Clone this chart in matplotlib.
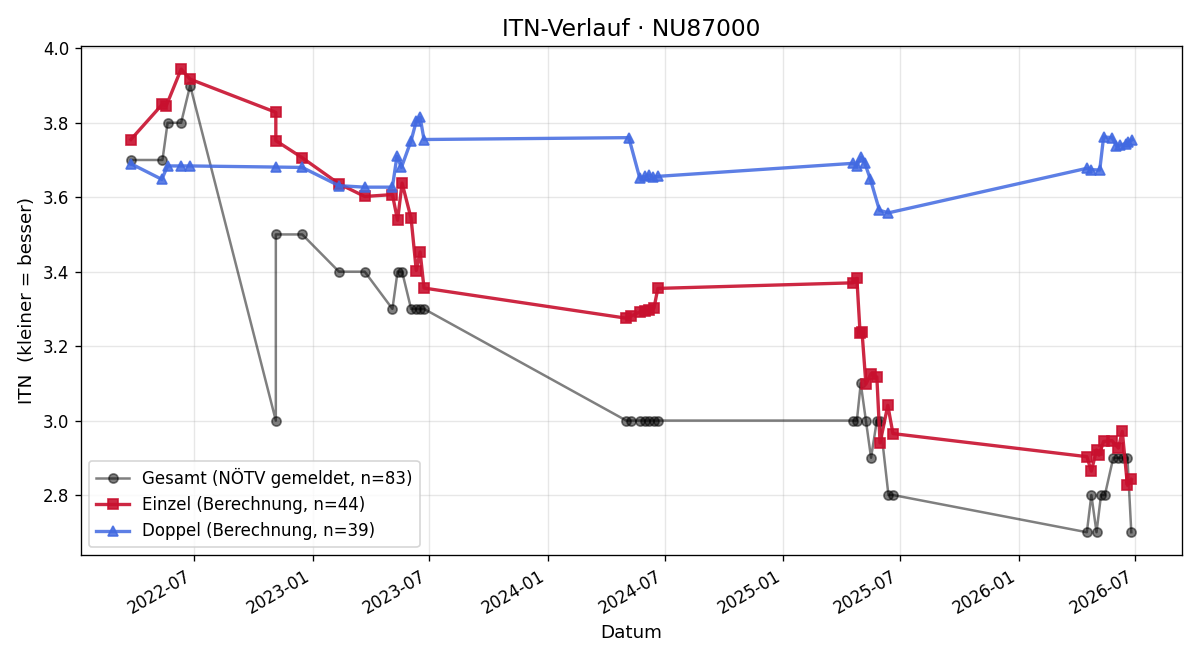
import pandas as pd
import matplotlib
matplotlib.use("Agg")
import matplotlib.pyplot as plt
import matplotlib.dates as mdates

# Gesamt (reported by NÖTV)
ges_dates = ["2022-03-25", "2022-05-13", "2022-05-21", "2022-06-11", "2022-06-25",
             "2022-11-05", "2022-11-05", "2022-12-16", "2023-02-11", "2023-03-23",
             "2023-05-05", "2023-05-13", "2023-05-20", "2023-06-03", "2023-06-11",
             "2023-06-17", "2023-06-23",
             "2024-05-02", "2024-05-09", "2024-05-23", "2024-05-31", "2024-06-06",
             "2024-06-14", "2024-06-20",
             "2025-04-19", "2025-04-25", "2025-05-01", "2025-05-09", "2025-05-17",
             "2025-05-26", "2025-05-31", "2025-06-13", "2025-06-20",
             "2026-04-17", "2026-04-24", "2026-05-02", "2026-05-09", "2026-05-15",
             "2026-05-28", "2026-06-05", "2026-06-12", "2026-06-19", "2026-06-25"]
ges_vals = [3.7, 3.7, 3.8, 3.8, 3.9,
            3.0, 3.5, 3.5, 3.4, 3.4,
            3.3, 3.4, 3.4, 3.3, 3.3,
            3.3, 3.3,
            3.0, 3.0, 3.0, 3.0, 3.0,
            3.0, 3.0,
            3.0, 3.0, 3.1, 3.0, 2.9,
            3.0, 3.0, 2.8, 2.8,
            2.7, 2.8, 2.7, 2.8, 2.8,
            2.9, 2.9, 2.9, 2.9, 2.7]

# Einzel (calculated)
ein_dates = ["2022-03-25", "2022-05-13", "2022-05-19", "2022-06-11", "2022-06-25",
             "2022-11-05", "2022-11-05", "2022-12-16", "2023-02-11", "2023-03-23",
             "2023-05-05", "2023-05-13", "2023-05-20", "2023-06-03", "2023-06-11",
             "2023-06-17", "2023-06-23",
             "2024-05-02", "2024-05-09", "2024-05-23", "2024-05-31", "2024-06-06",
             "2024-06-14", "2024-06-20",
             "2025-04-19", "2025-04-25", "2025-04-30", "2025-05-03", "2025-05-09",
             "2025-05-17", "2025-05-26", "2025-05-31", "2025-06-12", "2025-06-20",
             "2026-04-17", "2026-04-24", "2026-05-02", "2026-05-06", "2026-05-13",
             "2026-05-26", "2026-06-05", "2026-06-11", "2026-06-19", "2026-06-25"]
ein_vals = [3.755, 3.850, 3.846, 3.944, 3.917,
            3.828, 3.752, 3.706, 3.636, 3.602,
            3.607, 3.538, 3.638, 3.543, 3.403,
            3.453, 3.356,
            3.275, 3.280, 3.292, 3.295, 3.297,
            3.302, 3.355,
            3.370, 3.382, 3.234, 3.238, 3.098,
            3.126, 3.117, 2.940, 3.041, 2.965,
            2.903, 2.864, 2.921, 2.907, 2.944,
            2.946, 2.926, 2.971, 2.826, 2.842]

# Doppel (calculated)
dop_dates = ["2022-03-25", "2022-05-12", "2022-05-21", "2022-06-11", "2022-06-24",
             "2022-11-05", "2022-12-16", "2023-02-11", "2023-03-23", "2023-05-05",
             "2023-05-12", "2023-05-19", "2023-06-03", "2023-06-11", "2023-06-17",
             "2023-06-23",
             "2024-05-06", "2024-05-23", "2024-05-31", "2024-06-06", "2024-06-12",
             "2024-06-20",
             "2025-04-19", "2025-04-25", "2025-05-02", "2025-05-07", "2025-05-16",
             "2025-05-30", "2025-06-13",
             "2026-04-18", "2026-04-24", "2026-05-07", "2026-05-13", "2026-05-26",
             "2026-06-02", "2026-06-08", "2026-06-16", "2026-06-20", "2026-06-26"]
dop_vals = [3.690, 3.648, 3.684, 3.684, 3.684,
            3.681, 3.680, 3.631, 3.627, 3.627,
            3.710, 3.680, 3.752, 3.804, 3.815,
            3.755,
            3.760, 3.651, 3.656, 3.660, 3.654,
            3.656,
            3.691, 3.685, 3.708, 3.693, 3.648,
            3.565, 3.558,
            3.678, 3.674, 3.673, 3.762, 3.760,
            3.738, 3.740, 3.744, 3.748, 3.754]

ges = pd.to_datetime(ges_dates)
ein = pd.to_datetime(ein_dates)
dop = pd.to_datetime(dop_dates)

fig, ax = plt.subplots(figsize=(10, 5.5), dpi=120)

ax.plot(ges, ges_vals, marker="o", color="black", alpha=0.5, linewidth=1.5,
        markersize=5.5, label="Gesamt (NÖTV gemeldet, n=83)")
ax.plot(ein, ein_vals, marker="s", color="#c8102e", alpha=0.9, linewidth=2,
        markersize=6, label="Einzel (Berechnung, n=44)")
ax.plot(dop, dop_vals, marker="^", color="royalblue", alpha=0.85, linewidth=2,
        markersize=6, label="Doppel (Berechnung, n=39)")

ax.set_title("ITN-Verlauf · NU87000", fontsize=14)
ax.set_xlabel("Datum", fontsize=11)
ax.set_ylabel("ITN  (kleiner = besser)", fontsize=11)
ax.grid(True, alpha=0.3)
ax.xaxis.set_major_locator(mdates.MonthLocator(bymonth=[1, 7]))
ax.xaxis.set_major_formatter(mdates.DateFormatter("%Y-%m"))
ax.legend(loc="lower left")
fig.autofmt_xdate()
fig.tight_layout()
fig.savefig("out.png")
